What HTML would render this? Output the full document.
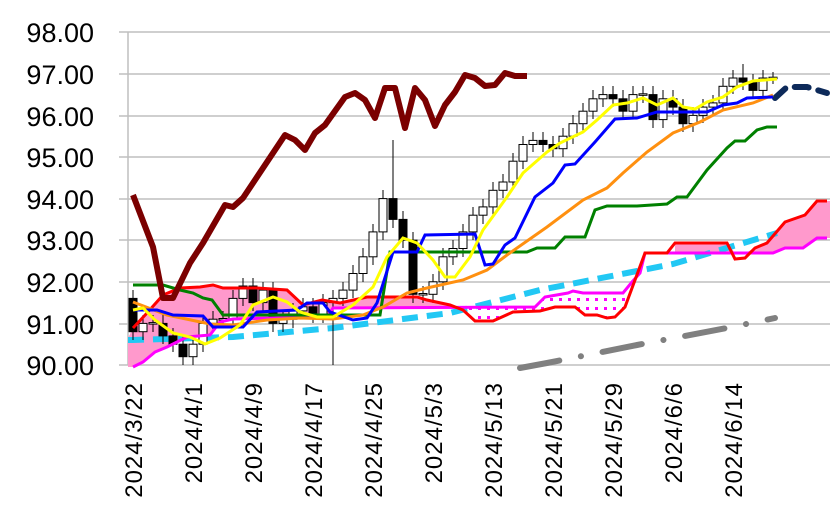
<!DOCTYPE html>
<html><head><meta charset="utf-8"><style>body{margin:0;background:#fff}svg{display:block}</style></head>
<body>
<svg width="837" height="527" viewBox="0 0 837 527" xmlns="http://www.w3.org/2000/svg" font-family="Liberation Sans, Arial, sans-serif">
<defs>
<pattern id="dots" width="9" height="9" patternUnits="userSpaceOnUse"><rect x="1" y="1" width="3" height="3" fill="#ff00ff"/></pattern>
</defs>
<g stroke="#bfbfbf" stroke-width="1.5">
<line x1="119" y1="32" x2="830" y2="32"/><line x1="119" y1="74" x2="830" y2="74"/><line x1="119" y1="116" x2="830" y2="116"/><line x1="119" y1="157" x2="830" y2="157"/><line x1="119" y1="199" x2="830" y2="199"/><line x1="119" y1="240" x2="830" y2="240"/><line x1="119" y1="282" x2="830" y2="282"/><line x1="119" y1="324" x2="830" y2="324"/><line x1="119" y1="365" x2="830" y2="365"/>
<line x1="128" y1="32" x2="128" y2="365"/>
</g>
<g font-size="27" fill="#000" text-anchor="end">
<text x="94" y="42">98.00</text><text x="94" y="84">97.00</text><text x="94" y="126">96.00</text><text x="94" y="167">95.00</text><text x="94" y="209">94.00</text><text x="94" y="250">93.00</text><text x="94" y="292">92.00</text><text x="94" y="334">91.00</text><text x="94" y="375">90.00</text>
</g>
<g font-size="24" fill="#000" text-anchor="end" letter-spacing="1">
<text transform="translate(142,382) rotate(-90)">2024/3/22</text>
<text transform="translate(202,382) rotate(-90)">2024/4/1</text>
<text transform="translate(262,382) rotate(-90)">2024/4/9</text>
<text transform="translate(322,382) rotate(-90)">2024/4/17</text>
<text transform="translate(382,382) rotate(-90)">2024/4/25</text>
<text transform="translate(442,382) rotate(-90)">2024/5/3</text>
<text transform="translate(502,382) rotate(-90)">2024/5/13</text>
<text transform="translate(562,382) rotate(-90)">2024/5/21</text>
<text transform="translate(622,382) rotate(-90)">2024/5/29</text>
<text transform="translate(682,382) rotate(-90)">2024/6/6</text>
<text transform="translate(742,382) rotate(-90)">2024/6/14</text>
</g>
<!-- clouds -->
<polygon fill="#ff99cc" points="128,338 133,328 147,313 163,295 180,288 200,287 213,285 223,288 257,288 287,290 303,305 322,300 340,303 367,297 417,297 427,300 450,305 450,308 333,308 327,317 233,319 220,322 210,335 187,337 167,347 155,352 143,362 133,367 128,367"/>
<polygon fill="url(#dots)" points="463,310 475,321 493,321 513,312 540,311 555,307 575,307 585,315 597,315 607,318 615,317 625,307 632,282 623,293 583,293 573,291 568,293 545,297 535,307 463,307"/>
<polygon fill="#ff99cc" points="675,243 727,243 735,253 675,253"/>
<polygon fill="#ff99cc" points="745,253 755,248 767,243 785,222 805,215 817,201 830,201 830,238 817,238 803,248 785,248 773,253"/>
<!-- gray dash-dot -->
<polyline fill="none" stroke="#808080" stroke-width="6" stroke-linecap="round" stroke-dasharray="40 22 0.1 22" points="520,368 547,363 637,345 727,328 775,318"/>
<!-- cyan dashed -->
<polyline fill="none" stroke="#22c8f4" stroke-width="6" stroke-dasharray="16 9" points="128,340 133,340 233,337 333,328 450,313 540,290 627,273 673,264 777,233"/>
<!-- navy dashed -->
<polyline fill="none" stroke="#0d2a5a" stroke-width="6" stroke-linecap="round" stroke-dasharray="14 10" points="775,98 787,87 807,87 827,93"/>
<!-- candle wicks -->
<path stroke="#000" stroke-width="1" fill="none" d="M133 290V340M143 315V340M153 315V332M163 315V344M173 328V352M183 336V365M193 336V365M203 315V352M213 311V332M223 311V328M233 290V328M243 278V306M253 278V311M263 282V311M273 282V332M283 311V332M293 303V328M303 298V319M313 298V323M323 294V323M333 290V365M343 282V306M353 265V298M363 248V282M373 224V265M383 190V240M393 140V228M403 211V248M413 232V303M423 286V303M433 274V303M443 248V290M453 240V265M463 224V257M473 207V240M483 199V224M493 182V215M503 174V198M513 153V190M523 136V169M533 132V152M543 132V152M553 136V157M563 128V157M573 115V144M583 103V132M593 90V119M603 86V107M613 86V107M623 90V119M633 86V119M643 86V103M653 86V128M663 90V128M673 90V115M683 99V132M693 107V132M703 99V123M713 95V115M723 78V111M733 70V94M743 64V90M753 74V98M763 70V98M773 72V84"/>
<g stroke="#000" stroke-width="1" transform="translate(1,0)">
<rect x="128" y="298.4" width="8" height="33.3" fill="#000"/>
<rect x="138" y="323.4" width="8" height="8.3" fill="#fff"/>
<rect x="148" y="322.6" width="8" height="1.5" fill="#fff"/>
<rect x="158" y="323.4" width="8" height="12.5" fill="#000"/>
<rect x="168" y="335.9" width="8" height="8.3" fill="#000"/>
<rect x="178" y="344.2" width="8" height="12.5" fill="#000"/>
<rect x="188" y="344.2" width="8" height="12.5" fill="#fff"/>
<rect x="198" y="323.4" width="8" height="20.8" fill="#fff"/>
<rect x="208" y="319.2" width="8" height="4.2" fill="#fff"/>
<rect x="218" y="318.5" width="8" height="1.5" fill="#fff"/>
<rect x="228" y="298.4" width="8" height="20.8" fill="#fff"/>
<rect x="238" y="286" width="8" height="12.4" fill="#fff"/>
<rect x="248" y="286" width="8" height="16.6" fill="#000"/>
<rect x="258" y="290.1" width="8" height="12.5" fill="#fff"/>
<rect x="268" y="290.1" width="8" height="33.3" fill="#000"/>
<rect x="278" y="319.2" width="8" height="4.2" fill="#fff"/>
<rect x="288" y="310.9" width="8" height="8.3" fill="#fff"/>
<rect x="298" y="306.8" width="8" height="4.1" fill="#fff"/>
<rect x="308" y="306.8" width="8" height="8.3" fill="#000"/>
<rect x="318" y="302.6" width="8" height="12.5" fill="#fff"/>
<rect x="328" y="298.4" width="8" height="4.2" fill="#fff"/>
<rect x="338" y="290.1" width="8" height="8.3" fill="#fff"/>
<rect x="348" y="273.5" width="8" height="16.6" fill="#fff"/>
<rect x="358" y="256.8" width="8" height="16.7" fill="#fff"/>
<rect x="368" y="231.9" width="8" height="24.9" fill="#fff"/>
<rect x="378" y="198.6" width="8" height="33.3" fill="#fff"/>
<rect x="388" y="198.6" width="8" height="20.8" fill="#000"/>
<rect x="398" y="219.4" width="8" height="20.8" fill="#000"/>
<rect x="408" y="240.2" width="8" height="54.1" fill="#000"/>
<rect x="418" y="293.5" width="8" height="1.5" fill="#fff"/>
<rect x="428" y="281.8" width="8" height="12.5" fill="#fff"/>
<rect x="438" y="256.8" width="8" height="25" fill="#fff"/>
<rect x="448" y="248.5" width="8" height="8.3" fill="#fff"/>
<rect x="458" y="231.9" width="8" height="16.6" fill="#fff"/>
<rect x="468" y="215.2" width="8" height="16.7" fill="#fff"/>
<rect x="478" y="206.9" width="8" height="8.3" fill="#fff"/>
<rect x="488" y="190.3" width="8" height="16.6" fill="#fff"/>
<rect x="498" y="182" width="8" height="8.3" fill="#fff"/>
<rect x="508" y="161.2" width="8" height="20.8" fill="#fff"/>
<rect x="518" y="144.5" width="8" height="16.7" fill="#fff"/>
<rect x="528" y="140.4" width="8" height="4.1" fill="#fff"/>
<rect x="538" y="140.4" width="8" height="4.1" fill="#000"/>
<rect x="548" y="144.5" width="8" height="4.2" fill="#000"/>
<rect x="558" y="136.2" width="8" height="12.5" fill="#fff"/>
<rect x="568" y="123.7" width="8" height="12.5" fill="#fff"/>
<rect x="578" y="111.2" width="8" height="12.5" fill="#fff"/>
<rect x="588" y="98.8" width="8" height="12.4" fill="#fff"/>
<rect x="598" y="94.6" width="8" height="4.2" fill="#fff"/>
<rect x="608" y="94.6" width="8" height="4.2" fill="#000"/>
<rect x="618" y="98.8" width="8" height="12.4" fill="#000"/>
<rect x="628" y="94.6" width="8" height="16.6" fill="#fff"/>
<rect x="638" y="93.8" width="8" height="1.5" fill="#fff"/>
<rect x="648" y="94.6" width="8" height="25" fill="#000"/>
<rect x="658" y="98.8" width="8" height="20.8" fill="#fff"/>
<rect x="668" y="98.8" width="8" height="8.3" fill="#000"/>
<rect x="678" y="107.1" width="8" height="16.6" fill="#000"/>
<rect x="688" y="115.4" width="8" height="8.3" fill="#fff"/>
<rect x="698" y="107.1" width="8" height="8.3" fill="#fff"/>
<rect x="708" y="102.9" width="8" height="4.2" fill="#fff"/>
<rect x="718" y="86.3" width="8" height="16.6" fill="#fff"/>
<rect x="728" y="78" width="8" height="8.3" fill="#fff"/>
<rect x="738" y="78" width="8" height="4.1" fill="#000"/>
<rect x="748" y="82.1" width="8" height="8.3" fill="#000"/>
<rect x="758" y="78" width="8" height="12.4" fill="#fff"/>
<rect x="768" y="77.2" width="8" height="1.5" fill="#fff"/>
</g>
<!-- lines -->
<polyline fill="none" stroke="#ff00ff" stroke-width="3" points="133,367 143,362 155,352 167,347 187,337 210,335 220,322 233,319 327,317 333,308 535,307 545,297 568,293 573,291 583,293 623,293 632,282 640,273 645,253 773,253 785,248 803,248 817,238 827,238"/>
<polyline fill="none" stroke="#ff0000" stroke-width="3" points="133,328 147,313 163,295 180,288 200,287 213,285 223,288 257,288 287,290 303,305 322,300 340,303 367,297 417,297 427,300 450,305 463,310 475,321 493,321 513,312 540,311 555,307 575,307 585,315 597,315 607,318 615,317 625,307 645,253 667,253 675,243 727,243 735,259 745,258 755,248 767,243 785,222 805,215 817,201 827,201"/>
<polyline fill="none" stroke="#008000" stroke-width="3" points="133,285 163,285 180,290 193,293 203,298 212,300 223,315 380,315 390,252 527,252 537,248 555,248 565,237 585,237 595,210 607,206 637,206 667,204 677,197 687,197 707,170 727,148 735,141 745,141 757,130 767,127 777,127"/>
<polyline fill="none" stroke="#ff9010" stroke-width="3" points="133,302 167,315 210,324 233,325 267,320 300,318 333,319 363,315 383,307 407,293 427,288 463,280 487,270 507,255 547,227 583,200 607,188 623,173 647,152 673,133 700,122 723,110 753,103 773,95"/>
<polyline fill="none" stroke="#0000ff" stroke-width="3" points="133,310 157,310 173,315 203,316 213,327 243,327 257,312 297,310 307,303 323,303 330,312 353,320 367,318 377,303 393,252 417,252 425,235 475,234 485,265 493,264 505,245 515,238 535,197 553,183 565,165 575,164 595,142 615,119 637,118 657,112 707,112 723,105 737,103 747,98 773,97"/>
<polyline fill="none" stroke="#ffff00" stroke-width="3" points="133,310 143,308 155,320 173,333 190,337 205,344 220,338 240,325 253,305 273,297 287,302 300,312 317,317 333,317 353,305 373,287 387,257 403,238 417,243 433,260 445,277 455,277 470,257 483,230 507,197 523,173 547,152 560,143 583,132 597,120 613,105 627,103 643,98 657,105 673,98 683,107 695,109 707,102 723,97 737,87 753,81 777,79"/>
<polyline fill="none" stroke="#7b0000" stroke-width="6" stroke-linejoin="round" points="133,195 153,247 163,298 173,298 190,263 203,243 225,205 233,207 243,198 255,180 263,168 285,135 295,140 305,150 315,133 325,125 345,97 355,93 365,100 375,118 385,88 395,88 405,128 415,88 425,100 435,126 445,105 455,92 465,75 475,78 485,86 495,85 505,73 515,76 527,76"/>
</svg>
</body></html>
